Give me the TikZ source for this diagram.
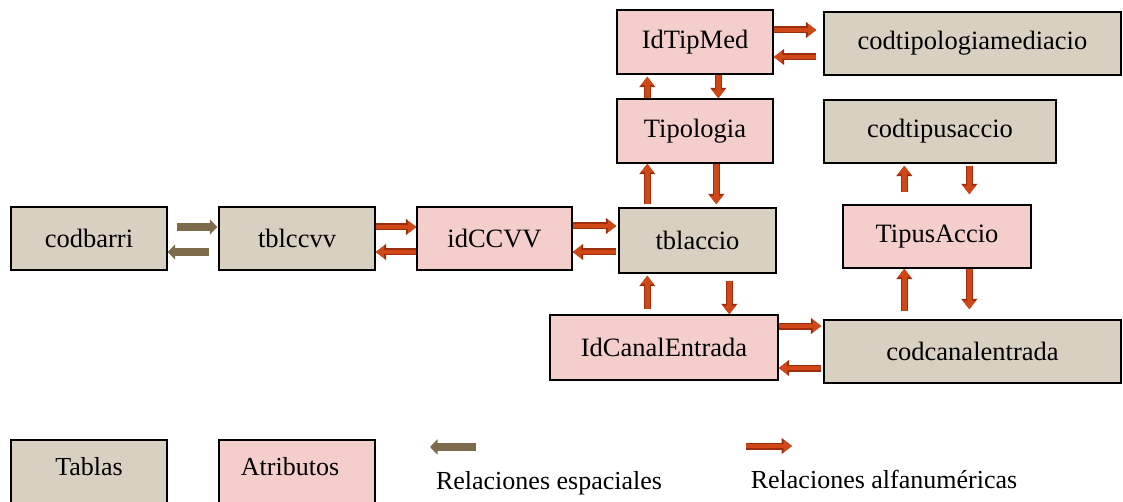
\documentclass[tikz,border=0pt]{standalone}
\usepackage{fontspec}
\setmainfont{Liberation Serif}
\usetikzlibrary{arrows.meta,calc}
\definecolor{tan}{HTML}{D8D1C2}
\definecolor{pinkf}{HTML}{F3CECA}
\definecolor{arrred}{HTML}{D04818}
\definecolor{arrdark}{HTML}{9C2E0C}
\definecolor{arrbrown}{HTML}{7D6B4B}
\tikzset{
  box/.style={draw=black, line width=1.4pt, inner sep=0pt, font=\fontsize{26.5}{30}\selectfont},
  tbl/.style={box, fill=tan},
  atr/.style={box, fill=pinkf},
  ra/.style={draw=arrred, line width=4.5pt, -{Triangle[length=8.5pt,width=12pt]},
    preaction={draw=arrdark, line width=7pt, -{Triangle[length=10.5pt,width=15.5pt]}}},
  ba/.style={draw=arrbrown, line width=7.5pt, -{Triangle[length=7.5pt,width=15pt]}},
  lbl/.style={font=\fontsize{26}{30}\selectfont, inner sep=0pt}
}
\begin{document}
\begin{tikzpicture}[x=1pt,y=-1pt]
\useasboundingbox (0,0) rectangle (1123,502);
\fill[white] (0,0) rectangle (1123,502);
% nodes
\node[tbl, minimum width=156pt, minimum height=63pt] (codbarri) at (89,238.5) {codbarri};
\node[tbl, minimum width=156pt, minimum height=63pt] (tblccvv) at (297,238.5) {tblccvv};
\node[atr, minimum width=155pt, minimum height=63pt] (idCCVV) at (494.5,238.5) {idCCVV};
\node[tbl, minimum width=157pt, minimum height=65pt] (tblaccio) at (697.5,240.5) {tblaccio};
\node[atr, minimum width=156pt, minimum height=64pt] (Tipologia) at (695,131) {Tipologia};
\node[atr, minimum width=156pt, minimum height=64pt] (IdTipMed) at (695,42) {IdTipMed};
\node[tbl, minimum width=297pt, minimum height=63pt] (codtip) at (972.5,43.5) {codtipologiamediacio};
\node[tbl, minimum width=232pt, minimum height=63pt] (codtipus) at (940,131.5) {codtipusaccio};
\node[atr, minimum width=188pt, minimum height=63pt] (TipusAccio) at (937,236.5) {TipusAccio};
\node[atr, minimum width=228pt, minimum height=65pt] (IdCanal) at (664,347.5) {IdCanalEntrada};
\node[tbl, minimum width=297pt, minimum height=63pt] (codcanal) at (972.5,351.5) {codcanalentrada};
% legend
\node[tbl, minimum width=156pt, minimum height=66pt] (Tablas) at (89,473) {};
\node[lbl] (TablasT) at (89,467) {Tablas};
\node[atr, minimum width=156pt, minimum height=66pt] (Atributos) at (297,473) {};
\node[lbl] (AtributosT) at (290,467) {Atributos};
\node[lbl] (relesp) at (549,483) {Relaciones espaciales};
\node[lbl] (relalf) at (884,479) {Relaciones alfanuméricas};
\coordinate (lb1) at (476,447);
\coordinate (lb2) at (430,447);
\coordinate (lr1) at (746,446);
\coordinate (lr2) at (792,446);
\draw[ba] (lb1) -- (lb2);
\draw[ra] (lr1) -- (lr2);
% arrows
\draw[ba] ($(codbarri.east)+(9,-11.5)$) -- ($(codbarri.east -| tblccvv.west)+(-1,-11.5)$);
\draw[ba] ($(tblccvv.west)+(-9,13.5)$) -- ($(tblccvv.west -| codbarri.east)+(0,13.5)$);
\draw[ra] ($(tblccvv.east)+(0,-11.5)$) -- ($(tblccvv.east -| idCCVV.west)+(0,-11.5)$);
\draw[ra] ($(idCCVV.west)+(0,13.5)$) -- ($(idCCVV.west -| tblccvv.east)+(0,13.5)$);
\draw[ra] ($(idCCVV.east)+(0,-12.5)$) -- ($(idCCVV.east -| tblaccio.west)+(-2,-12.5)$);
\draw[ra] ($(tblaccio.west)+(-2,11.5)$) -- ($(tblaccio.west -| idCCVV.east)+(0,11.5)$);
\draw[ra] ($(tblaccio.north west)+(29,-3)$) -- ($(tblaccio.north west |- Tipologia.south)+(29,0)$);
\draw[ra] ($(Tipologia.south west)+(100,0)$) -- ($(Tipologia.south west |- tblaccio.north)+(100,-3)$);
\draw[ra] ($(Tipologia.north west)+(31,0)$) -- ($(Tipologia.north west |- IdTipMed.south)+(31,2)$);
\draw[ra] ($(IdTipMed.south west)+(102,0)$) -- ($(IdTipMed.south west |- Tipologia.north)+(102,0)$);
\draw[ra] ($(IdTipMed.east)+(0,-12)$) -- ($(IdTipMed.east -| codtip.west)+(-7,-12)$);
\draw[ra] ($(codtip.west)+(-7,13.5)$) -- ($(codtip.west -| IdTipMed.east)+(0,13.5)$);
\draw[ra] ($(IdCanal.north west)+(98,-5)$) -- ($(IdCanal.north west |- tblaccio.south)+(98,2)$);
\draw[ra] ($(tblaccio.south west)+(111,7)$) -- ($(tblaccio.south west |- IdCanal.north)+(111,0)$);
\draw[ra] ($(IdCanal.east)+(0,-21.5)$) -- ($(IdCanal.east -| codcanal.west)+(-2,-21.5)$);
\draw[ra] ($(codcanal.west)+(-2,16.5)$) -- ($(codcanal.west -| IdCanal.east)+(0,16.5)$);
\draw[ra] ($(TipusAccio.north west)+(62,-12)$) -- ($(TipusAccio.north west |- codtipus.south)+(62,2)$);
\draw[ra] ($(codtipus.south west)+(146,2)$) -- ($(codtipus.south west |- TipusAccio.north)+(146,-10)$);
\draw[ra] ($(codcanal.north west)+(81,-8)$) -- ($(codcanal.north west |- TipusAccio.south)+(81,0)$);
\draw[ra] ($(TipusAccio.south west)+(127,0)$) -- ($(TipusAccio.south west |- codcanal.north)+(127,-10)$);
\end{tikzpicture}
\end{document}
